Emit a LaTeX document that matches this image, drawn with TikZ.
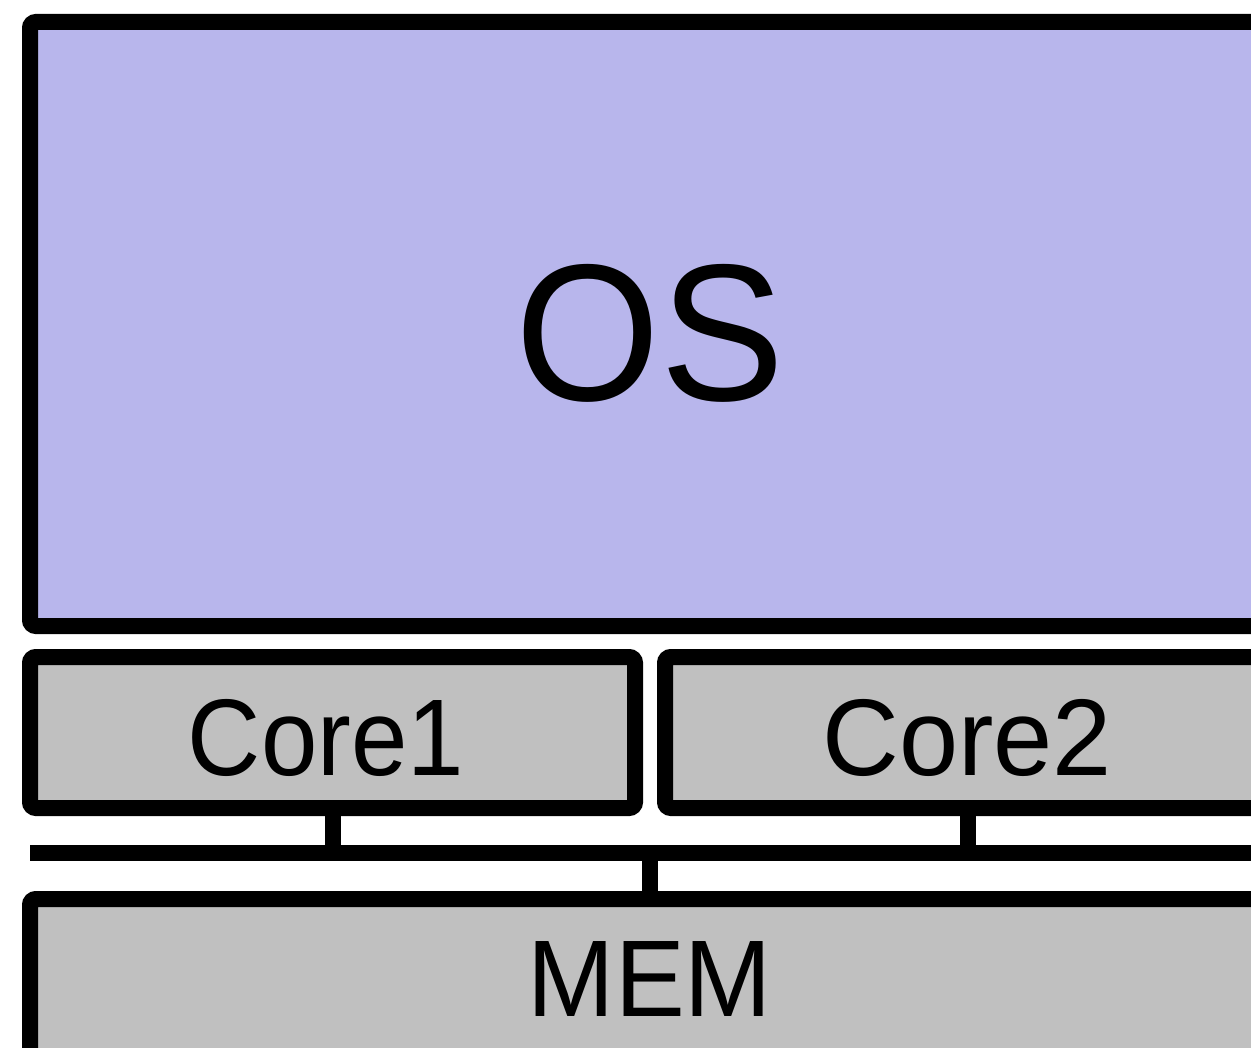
\documentclass[tikz,border=0pt]{standalone}
\usepackage{fontspec}
\setmainfont{Liberation Sans}
\definecolor{osfill}{RGB}{184,182,236}
\definecolor{hwfill}{RGB}{192,192,192}
\begin{document}
\begin{tikzpicture}[x=1pt,y=-1pt,
  box/.style={draw=black, line width=16pt, rounded corners=6pt, inner sep=0pt, outer sep=0pt},
  osbox/.style={box, fill=osfill},
  hwbox/.style={box, fill=hwfill},
  bigtext/.style={inner sep=0pt, font=\fontsize{195pt}{195pt}\selectfont},
  midtext/.style={inner sep=0pt, font=\fontsize{109pt}{109pt}\selectfont},
  wire/.style={line width=16pt, line cap=butt}]
\useasboundingbox (0,0) rectangle (1251,1048);
\clip (0,0) rectangle (1251,1048);
\node[osbox, minimum width=1240pt, minimum height=604pt] (os) at (650,324) {};
\node[hwbox, minimum width=605pt, minimum height=151pt] (core1) at (332.5,732.5) {};
\node[hwbox, minimum width=605pt, minimum height=151pt] (core2) at (967.5,732.5) {};
\node[hwbox, minimum width=1240pt, minimum height=161pt] (mem) at (650,979.5) {};
\node[bigtext] (ostext) at (650,333) {\scalebox{0.955}[1]{OS}};
\node[midtext] (c1text) at (326,738) {\scalebox{0.93}[1]{Core1}};
\node[midtext] (c2text) at (967,738) {\scalebox{0.975}[1]{Core2}};
\node[midtext] (memtext) at (650,979) {\scalebox{0.96}[1]{MEM}};
\coordinate (busL) at (30,853);
\coordinate (busR) at (1290,853);
\coordinate (busM) at (650,853);
\draw[wire] (busL) -- (busR);
\draw[wire] (core1.south) -- (core1.south |- busL);
\draw[wire] (core2.south) -- (core2.south |- busL);
\draw[wire] (busM) -- (mem.north);
\end{tikzpicture}
\end{document}
